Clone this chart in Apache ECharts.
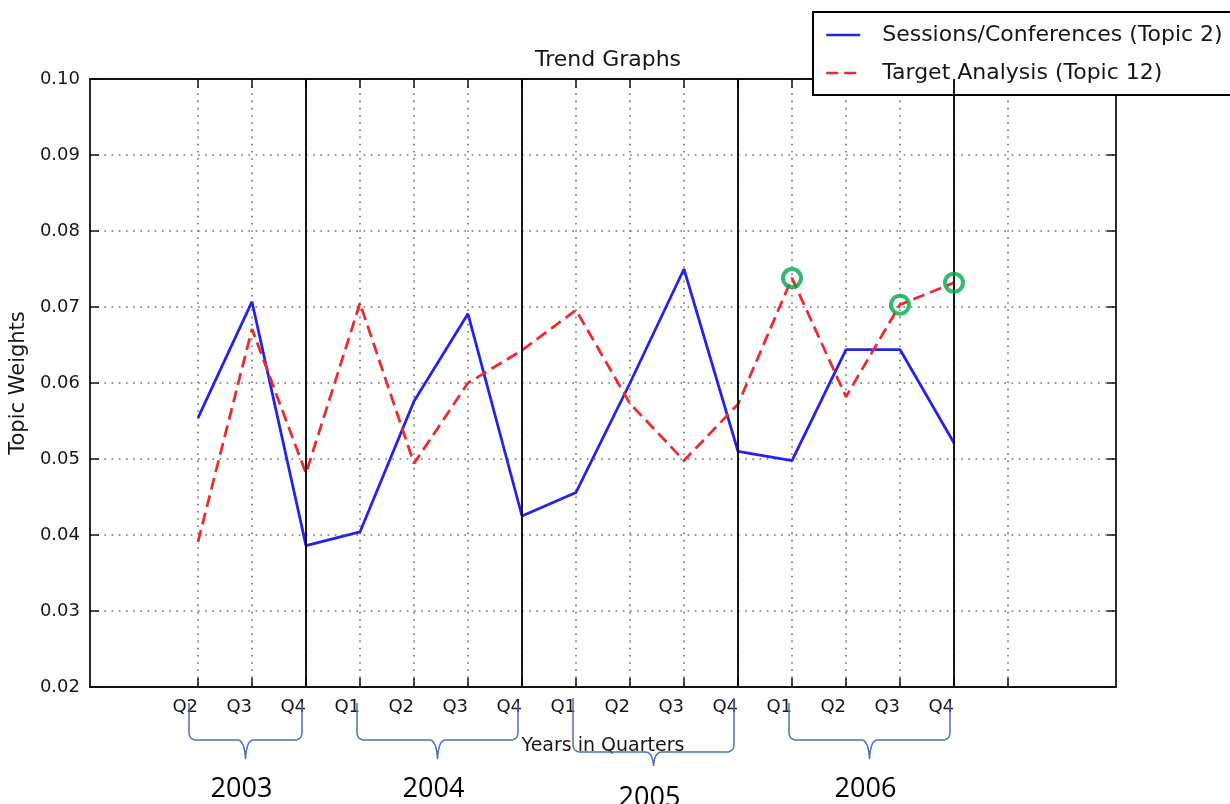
<!DOCTYPE html>
<html>
<head>
<meta charset="utf-8">
<script src="https://cdn.jsdelivr.net/npm/echarts@6/dist/echarts.min.js"></script>
<style>
  html, body { margin: 0; padding: 0; background: #ffffff; }
  #chart { width: 1230px; height: 804px; }
</style>
</head>
<body>
<div id="chart"></div>
<script>
// ---- data ----
const quarters = ['Q2','Q3','Q4','Q1','Q2','Q3','Q4','Q1','Q2','Q3','Q4','Q1','Q2','Q3','Q4'];
const sessions = [0.0554, 0.0707, 0.0386, 0.0404, 0.0576, 0.0691, 0.0425, 0.0456, 0.0600, 0.0750, 0.0510, 0.0498, 0.0644, 0.0644, 0.0521];
const target   = [0.0391, 0.0671, 0.0481, 0.0705, 0.0494, 0.0600, 0.0643, 0.0696, 0.0573, 0.0498, 0.0572, 0.0738, 0.0582, 0.0703, 0.0732];
const highlightIdx = [11, 13, 14];
const years = ['2003', '2004', '2005', '2006'];
const yearFirst = [0, 3, 7, 11];
const yearLast = [2, 6, 10, 14];
const yTicks = [0.02, 0.03, 0.04, 0.05, 0.06, 0.07, 0.08, 0.09, 0.10];
const seriesNames = ['Sessions/Conferences (Topic 2)', 'Target Analysis (Topic 12)'];

// ---- layout of category slots ----
const LEAD = 2, TRAIL = 3;
const cats = [];
for (let i = 0; i < LEAD; i++) cats.push('');
quarters.forEach(q => cats.push(q));
for (let i = 0; i < TRAIL; i++) cats.push('');
const pad = arr => { const o = []; for (let i = 0; i < LEAD; i++) o.push(null); arr.forEach(v => o.push(v)); for (let i = 0; i < TRAIL; i++) o.push(null); return o; };
const tickShown = i => i >= LEAD && i <= LEAD + quarters.length;

const yMin = yTicks[0], yMax = yTicks[yTicks.length - 1];
const FONT = 'DejaVu Sans';
const TXT = '#161616';

function quad(pts, p0, c, p1) {
  for (let k = 1; k <= 10; k++) {
    const t = k / 10, u = 1 - t;
    pts.push([u*u*p0[0] + 2*u*t*c[0] + t*t*p1[0], u*u*p0[1] + 2*u*t*c[1] + t*t*p1[1]]);
  }
}

function renderBrace(params, api) {
  const s = api.value(0), e = api.value(2), i = api.value(3);
  const base = api.coord([s, yMin]);
  const endPt = api.coord([e, yMin]);
  const lowered = (i === 2);
  const L = base[0] - (i === 0 ? 9 : 3);
  const R = endPt[0] - 4;
  const T = base[1] + (lowered ? 11 : 16);
  const H = base[1] + (lowered ? 65 : 53);
  const P = base[1] + (lowered ? 79 : 72);
  const M = (L + R) / 2;
  const r = 8;
  const pts = [[L, T], [L, H - r]];
  quad(pts, [L, H - r], [L, H], [L + r, H]);
  pts.push([M - 8, H]);
  quad(pts, [M - 8, H], [M - 1, H], [M, P]);
  quad(pts, [M, P], [M + 1, H], [M + 8, H]);
  pts.push([R - r, H]);
  quad(pts, [R - r, H], [R, H], [R, H - r]);
  pts.push([R, T]);
  return {
    type: 'group',
    children: [
      { type: 'polyline', shape: { points: pts }, style: { stroke: '#4a72b8', lineWidth: 1.5, fill: null } },
      { type: 'text', style: { text: years[i], x: M - 4, y: lowered ? P + 32 : P + 30, fill: '#000', font: '27px "Open Sans"', align: 'center', verticalAlign: 'middle' } }
    ]
  };
}

const chart = echarts.init(document.getElementById('chart'));
const axisLineStyle = { color: '#111', width: 1.8 };
const gridLineStyle = { color: '#6f6f6f', width: 1.6, type: [1.6, 5.6] };

chart.setOption({
  animation: false,
  backgroundColor: '#ffffff',
  title: {
    text: 'Trend Graphs', left: 603, top: 44, textAlign: 'center',
    textStyle: { fontFamily: FONT, fontSize: 22, fontWeight: 'normal', color: TXT }
  },
  legend: {
    data: seriesNames,
    orient: 'vertical', left: 813, top: 12,
    itemWidth: 34, itemHeight: 20, itemGap: 16,
    padding: [12, 20, 11, 12],
    borderColor: '#000', borderWidth: 2, backgroundColor: '#fff',
    itemStyle: { opacity: 0 },
    lineStyle: { width: 2.4 },
    textStyle: { fontFamily: FONT, fontSize: 22, color: TXT, padding: [0, 0, 0, 17], lineHeight: 20 }
  },
  grid: { left: 90, right: 114, top: 79, bottom: 117 },
  xAxis: [{
    type: 'category', data: cats, boundaryGap: false,
    name: 'Years in Quarters', nameLocation: 'middle', nameGap: 50,
    nameTextStyle: { fontFamily: FONT, fontSize: 19, color: TXT },
    axisLine: { lineStyle: axisLineStyle },
    axisTick: { inside: true, length: 9, interval: tickShown, lineStyle: { color: '#111', width: 1.5 } },
    axisLabel: { interval: 0, align: 'right', margin: 11, fontFamily: FONT, fontSize: 18, color: TXT },
    splitLine: { show: true, interval: tickShown, lineStyle: gridLineStyle }
  }, {
    type: 'category', data: cats, boundaryGap: false, position: 'top',
    axisLine: { lineStyle: axisLineStyle },
    axisTick: { inside: true, length: 9, interval: tickShown, lineStyle: { color: '#111', width: 1.5 } },
    axisLabel: { show: false }, splitLine: { show: false }
  }],
  yAxis: [{
    type: 'value', min: yMin, max: yMax, interval: 0.01,
    name: 'Topic Weights', nameLocation: 'middle', nameGap: 56,
    nameTextStyle: { fontFamily: FONT, fontSize: 21, color: TXT },
    axisLine: { show: true, lineStyle: axisLineStyle },
    axisTick: { show: true, inside: true, length: 9, lineStyle: { color: '#111', width: 1.5 } },
    axisLabel: { formatter: v => v.toFixed(2), margin: 10, fontFamily: FONT, fontSize: 18, color: TXT },
    splitLine: { show: true, lineStyle: gridLineStyle }
  }, {
    type: 'value', min: yMin, max: yMax, interval: 0.01, position: 'right',
    axisLine: { show: true, lineStyle: axisLineStyle },
    axisTick: { show: true, inside: true, length: 9, lineStyle: { color: '#111', width: 1.5 } },
    axisLabel: { show: false }, splitLine: { show: false }
  }],
  series: [{
    name: seriesNames[0], type: 'line', data: pad(sessions),
    symbol: 'none', connectNulls: false,
    lineStyle: { color: '#2424e8', width: 2.8 }, itemStyle: { color: '#2424e8' },
    z: 3,
    markLine: {
      silent: true, symbol: 'none', label: { show: false },
      lineStyle: { color: '#000', type: 'solid', width: 1.8 },
      data: yearLast.map(i => ({ xAxis: i + LEAD }))
    }
  }, {
    name: seriesNames[1], type: 'line', data: pad(target),
    symbol: 'none',
    lineStyle: { color: '#ee2b2b', width: 2.8, type: [12, 6] }, itemStyle: { color: '#ee2b2b' },
    z: 4
  }, {
    type: 'scatter', data: highlightIdx.map(i => [i + LEAD, target[i]]),
    symbol: 'circle', symbolSize: 18,
    itemStyle: { color: 'rgba(0,0,0,0)', borderColor: '#00a84c', borderWidth: 4 },
    z: 6
  }, {
    type: 'custom', clip: false, silent: true, z: 7,
    encode: { x: 0, y: 1 },
    data: years.map((y, i) => [yearFirst[i] + LEAD, yMin, yearLast[i] + LEAD, i]),
    renderItem: renderBrace
  }]
});
</script>
</body>
</html>
